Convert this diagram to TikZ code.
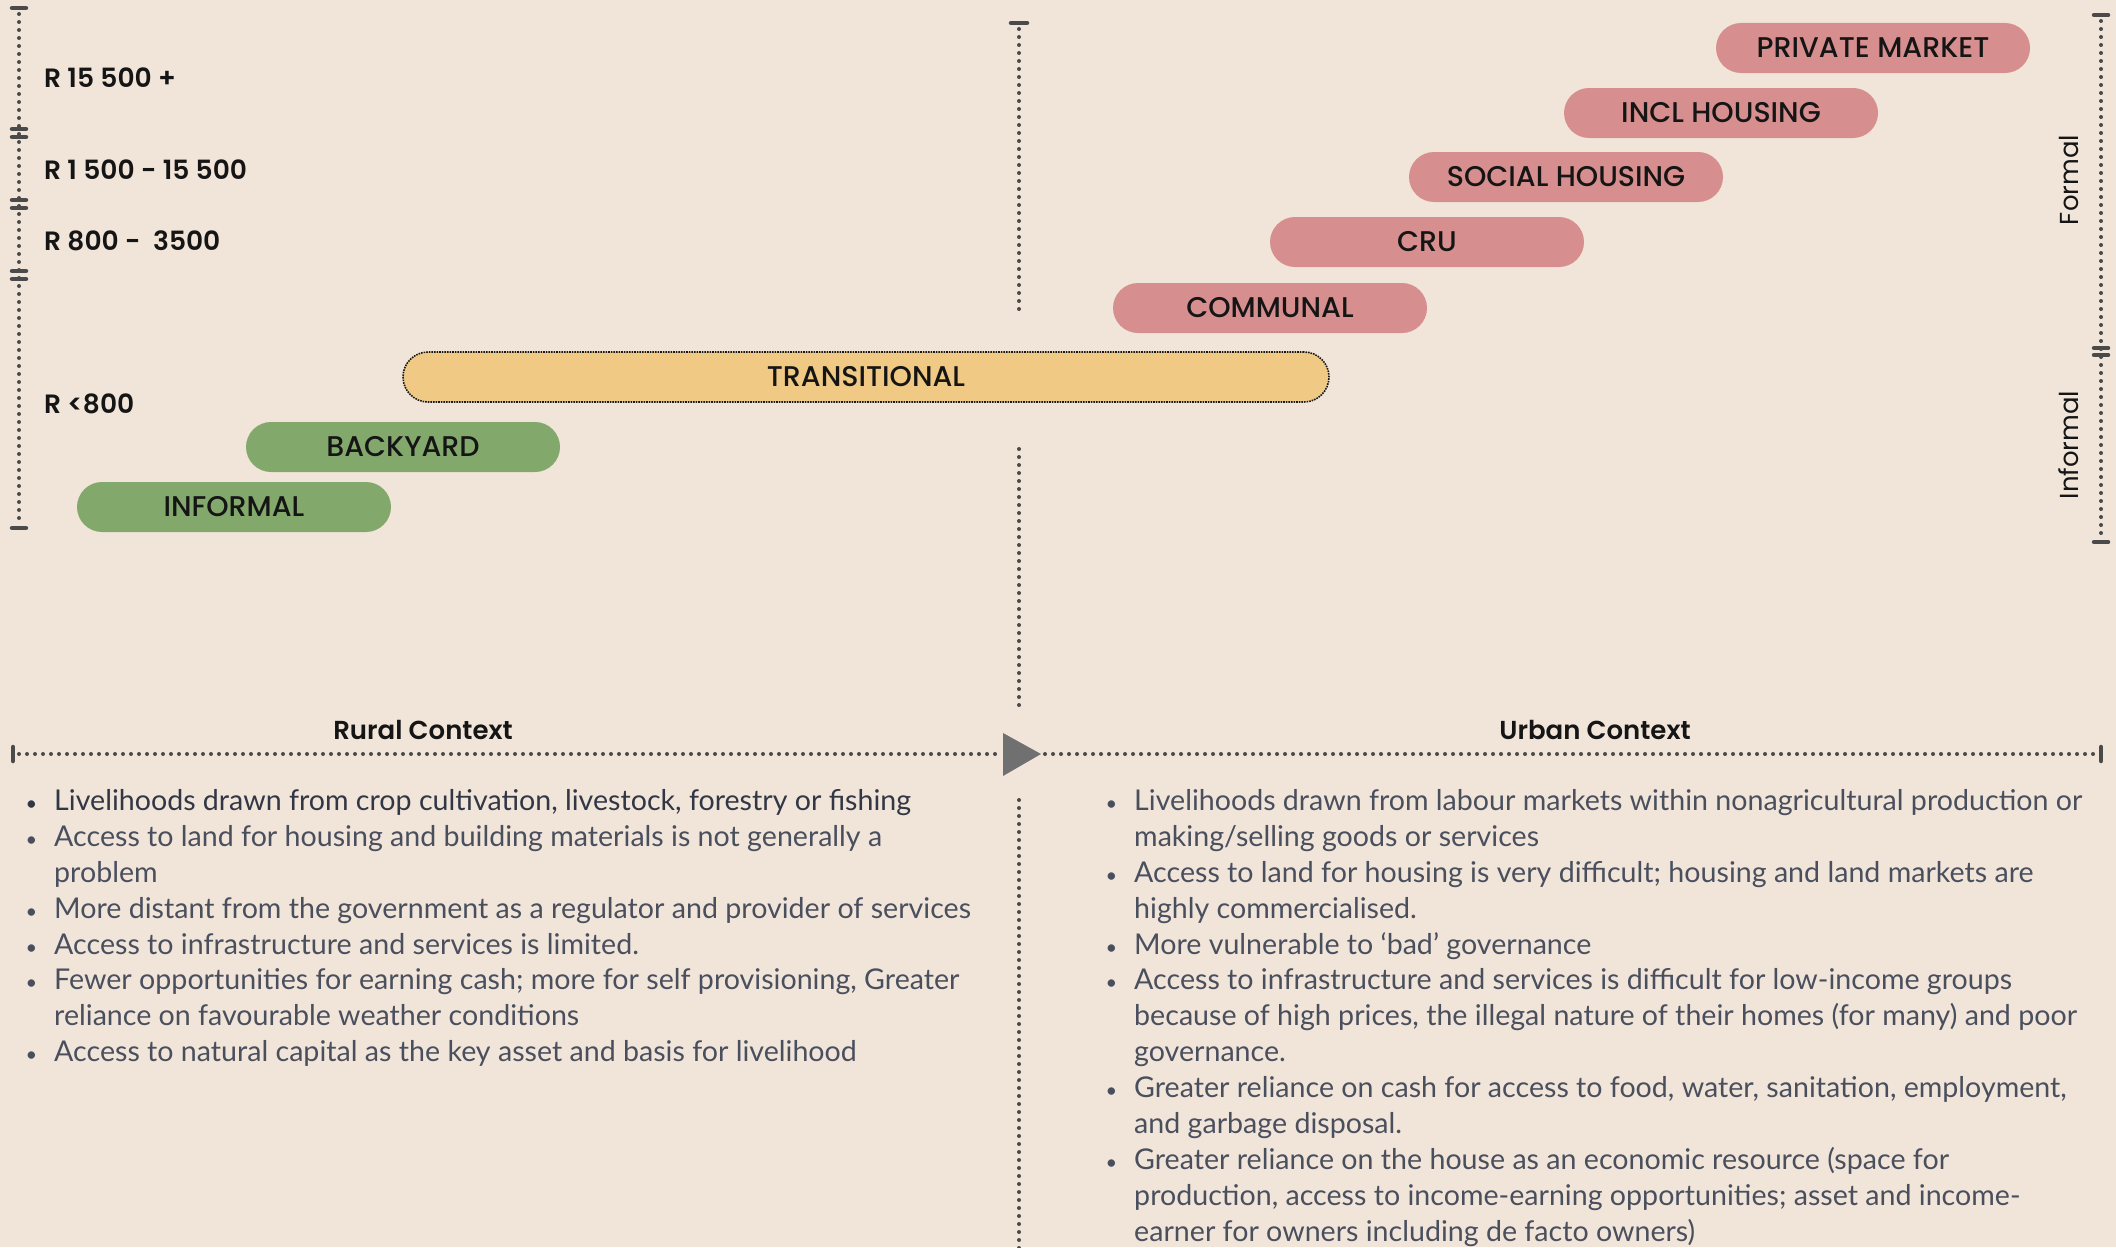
\documentclass[tikz,border=0pt]{standalone}
\usepackage{fontspec}
\setmainfont{Lato}
\newfontfamily\popm{Poppins Medium}
\newfontfamily\pops{Poppins SemiBold}
\newfontfamily\popr{Poppins}
\definecolor{bgc}{HTML}{F1E5DA}
\definecolor{pinkc}{HTML}{D68F8E}
\definecolor{greenc}{HTML}{82A86C}
\definecolor{yellowc}{HTML}{F0CA85}
\definecolor{dotc}{HTML}{4A4A4A}
\definecolor{trianc}{HTML}{707070}
\definecolor{txtblack}{HTML}{151515}
\definecolor{bultxt}{HTML}{4A4F5E}
\definecolor{bultxtdark}{HTML}{323746}
\tikzset{
  pill/.style={rounded corners=25pt, minimum width=314pt, minimum height=50pt, inner sep=0pt,
    font=\popm\fontsize{28.5}{32}\selectfont, text=txtblack},
  pinkpill/.style={pill, fill=pinkc},
  greenpill/.style={pill, fill=greenc},
  transpill/.style={pill, fill=yellowc, draw=black!90, densely dotted, line width=1.6pt, minimum width=926pt},
  dotline/.style={draw=dotc, line width=4pt, line cap=round, dash pattern=on 0pt off 8pt},
  barline/.style={draw=dotc, line width=4.5pt, line cap=round},
  inclabel/.style={anchor=west, inner sep=0pt, font=\pops\fontsize{26.5}{30}\selectfont, text=txtblack},
  sidelabel/.style={rotate=90, inner sep=0pt, font=\popr\fontsize{26}{30}\selectfont, text=txtblack},
  ctxtitle/.style={inner sep=0pt, font=\pops\fontsize{26}{30}\selectfont, text=txtblack},
  bl/.style={anchor=base west, inner sep=0pt, font=\fontsize{28.6}{36}\selectfont, text=bultxt},
}
\newcommand{\bu}{\llap{{\fontsize{20}{20}\selectfont\textbullet}\hspace{17pt}}}
\begin{document}
\begin{tikzpicture}[x=1pt,y=-1pt]
\fill[bgc] (0,0) rectangle (2116,1247);
\useasboundingbox (0,0) rectangle (2116,1247);

% left axis
\draw[dotline] (19,14) -- (19,524);
\draw[barline] (12,8) -- (26,8);
\foreach \yy in {129,137,200,208,271,279} {\draw[barline] (12,\yy) -- (26,\yy);}
\draw[barline] (12,528) -- (26,528);

% income labels
\node[inclabel] (i1) at (44,78) {R 15 500 +};
\node[inclabel] (i2) at (44,170) {R 1 500 - 15 500};
\node[inclabel] (i3) at (44,241) {R 800 -\ \ 3500};
\node[inclabel] (i4) at (44,404) {R <800};

% centre vertical
\draw[barline] (1011,23) -- (1027,23);
\draw[dotline] (1019,29) -- (1019,309);
\draw[dotline] (1019,449) -- (1019,705);
\draw[dotline] (1019,800) -- (1019,1250);

% horizontal axis
\draw[barline] (13,747) -- (13,761);
\draw[barline] (2101,747) -- (2101,761);
\draw[dotline] (19,754) -- (1000,754);
\draw[dotline] (1045,754) -- (2095,754);
\fill[trianc] (1003,733) -- (1003,776) -- (1041,754) -- cycle;

% right axis
\draw[barline] (2094,15) -- (2108,15);
\draw[dotline] (2101,21) -- (2101,536);
\draw[barline] (2094,348) -- (2108,348);
\draw[barline] (2094,355) -- (2108,355);
\draw[barline] (2094,542) -- (2108,542);
\node[sidelabel] (formal) at (2069,180) {Formal};
\node[sidelabel] (informalside) at (2069,445) {Informal};

% pills
\node[pinkpill] (pm) at (1873,48) {PRIVATE MARKET};
\node[pinkpill] (incl) at (1721,113) {INCL HOUSING};
\node[pinkpill] (soc) at (1566,177) {SOCIAL HOUSING};
\node[pinkpill] (cru) at (1427,242) {CRU};
\node[pinkpill] (comm) at (1270,308) {COMMUNAL};
\node[transpill] (trans) at (866,377) {TRANSITIONAL};
\node[greenpill] (back) at (403,447) {BACKYARD};
\node[greenpill] (inf) at (234,507) {INFORMAL};

% context titles
\node[ctxtitle] (rural) at (423,730) {Rural Context};
\node[ctxtitle] (urban) at (1595,730) {Urban Context};

% rural bullets
\node[bl, text=bultxtdark] (r1) at (54,810) {\bu Livelihoods drawn from crop cultivation, livestock, forestry or fishing};
\node[bl] (r2) at (54,846) {\bu Access to land for housing and building materials is not generally a};
\node[bl] (r2b) at (54,882) {problem};
\node[bl] (r3) at (54,918) {\bu More distant from the government as a regulator and provider of services};
\node[bl] (r4) at (54,954) {\bu Access to infrastructure and services is limited.};
\node[bl] (r5) at (54,989) {\bu Fewer opportunities for earning cash; more for self provisioning, Greater};
\node[bl] (r5b) at (54,1025) {reliance on favourable weather conditions};
\node[bl] (r6) at (54,1061) {\bu Access to natural capital as the key asset and basis for livelihood};

% urban bullets
\node[bl] (u1) at (1134,810) {\bu Livelihoods drawn from labour markets within nonagricultural production or};
\node[bl] (u1b) at (1134,846) {making/selling goods or services};
\node[bl] (u2) at (1134,882) {\bu Access to land for housing is very difficult; housing and land markets are};
\node[bl] (u2b) at (1134,918) {highly commercialised.};
\node[bl] (u3) at (1134,954) {\bu More vulnerable to ‘bad’ governance};
\node[bl] (u4) at (1134,989) {\bu Access to infrastructure and services is difficult for low-income groups};
\node[bl] (u4b) at (1134,1025) {because of high prices, the illegal nature of their homes (for many) and poor};
\node[bl] (u4c) at (1134,1061) {governance.};
\node[bl] (u5) at (1134,1097) {\bu Greater reliance on cash for access to food, water, sanitation, employment,};
\node[bl] (u5b) at (1134,1133) {and garbage disposal.};
\node[bl] (u6) at (1134,1169) {\bu Greater reliance on the house as an economic resource (space for};
\node[bl] (u6b) at (1134,1205) {production, access to income-earning opportunities; asset and income-};
\node[bl] (u6c) at (1134,1241) {earner for owners including de facto owners)};
\end{tikzpicture}
\end{document}
